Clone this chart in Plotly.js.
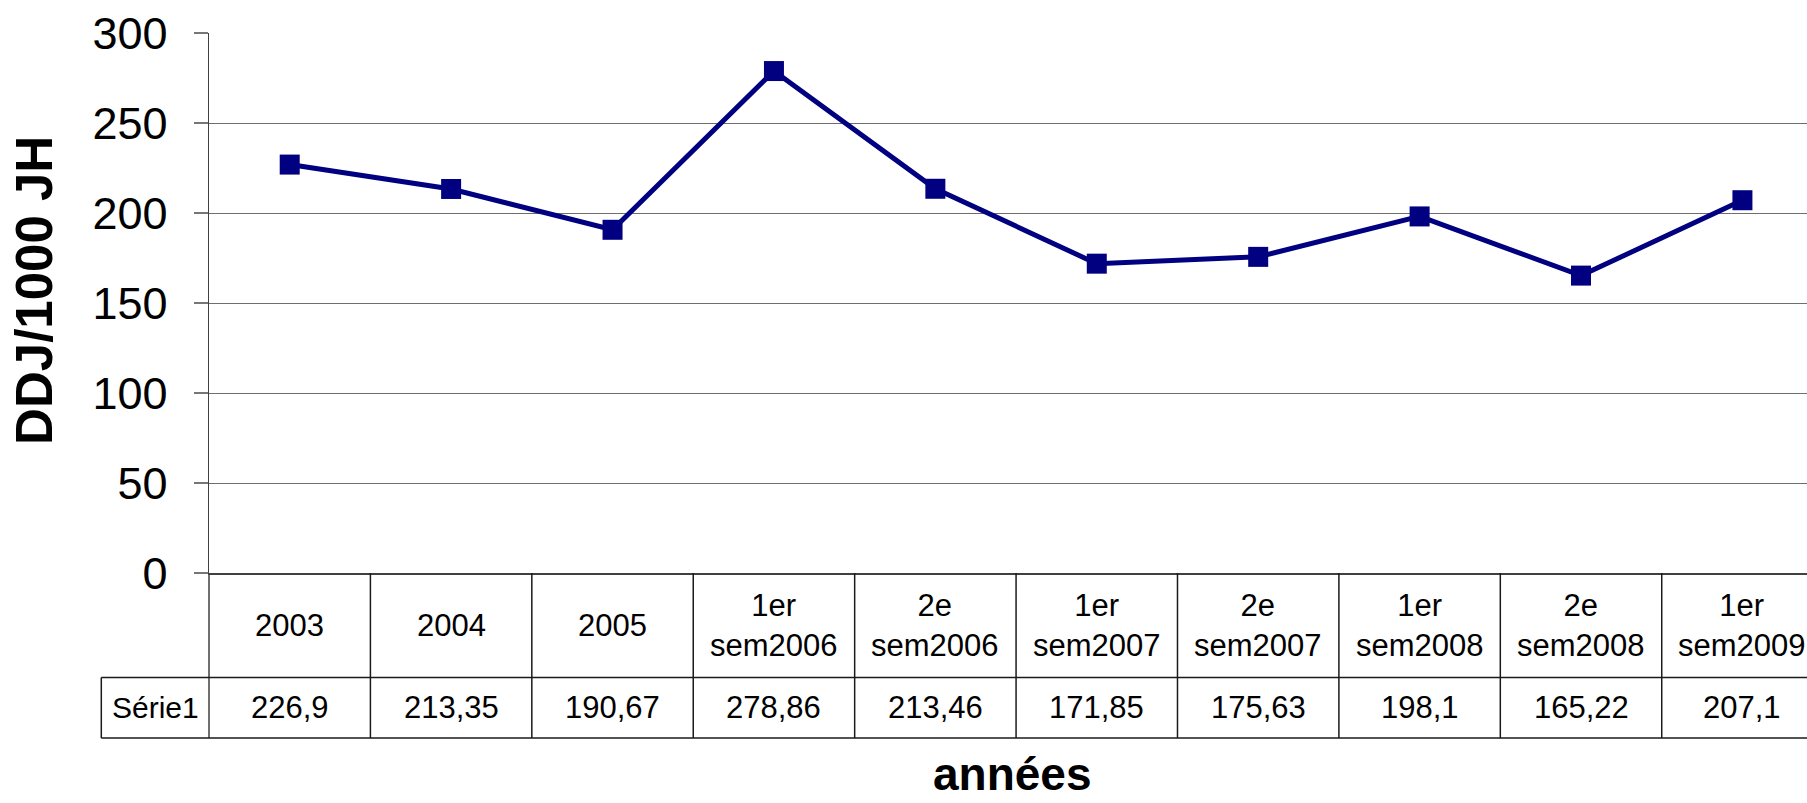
<!DOCTYPE html>
<html>
<head>
<meta charset="utf-8">
<script src="https://cdn.plot.ly/plotly-3.0.1.min.js"></script>
<style>
  html, body { margin: 0; padding: 0; background: #ffffff; overflow: hidden; }
  #chart { width: 1807px; height: 803px; }
</style>
</head>
<body>
<div id="chart"></div>
<script>
// ---- data ----
const categories = ["2003", "2004", "2005", "1er<br>sem2006", "2e<br>sem2006", "1er<br>sem2007", "2e<br>sem2007", "1er<br>sem2008", "2e<br>sem2008", "1er<br>sem2009"];
const seriesName = "Série1";
const values = [226.9, 213.35, 190.67, 278.86, 213.46, 171.85, 175.63, 198.1, 165.22, 207.1];
const yTickValues = [0, 50, 100, 150, 200, 250, 300];
const yTitle = "DDJ/1000 JH";
const xTitle = "années";

// ---- build ----
const FONT = "Liberation Sans, Arial, sans-serif";
const idx = categories.map((c, i) => i);
const fmt = v => String(v).replace('.', ',');

const trace = {
  x: idx,
  y: values,
  type: 'scatter',
  mode: 'lines+markers',
  name: seriesName,
  line: { color: '#000080', width: 5 },
  marker: { symbol: 'square', size: 20, color: '#000080', line: { width: 0 } },
  hoverinfo: 'skip',
  cliponaxis: false
};

const rowDivY = -0.1934;   // between category row and value row (paper)
const tableBottomY = -0.3057;
const labelCellLeft = -0.0674;
const tableLine = { color: '#1a1a1a', width: 1.5 };

const shapes = [];
// left border (continuation of the y axis)
shapes.push({ type: 'line', xref: 'paper', yref: 'paper', x0: 0, x1: 0, y0: 0, y1: tableBottomY, line: { color: '#404040', width: 1.5 } });
// column separators
for (let i = 1; i <= categories.length; i++) {
  shapes.push({ type: 'line', xref: 'x', yref: 'paper', x0: i - 0.5, x1: i - 0.5, y0: 0, y1: tableBottomY, line: tableLine });
}
// series label cell left border
shapes.push({ type: 'line', xref: 'paper', yref: 'paper', x0: labelCellLeft, x1: labelCellLeft, y0: rowDivY, y1: tableBottomY, line: tableLine });
// horizontal lines
shapes.push({ type: 'line', xref: 'paper', yref: 'paper', x0: labelCellLeft, x1: 1.02, y0: rowDivY, y1: rowDivY, line: tableLine });
shapes.push({ type: 'line', xref: 'paper', yref: 'paper', x0: labelCellLeft, x1: 1.02, y0: tableBottomY, y1: tableBottomY, line: tableLine });

const annotations = [];
categories.forEach((c, i) => {
  annotations.push({ xref: 'x', yref: 'paper', x: i, y: -0.097, text: c, showarrow: false,
    xanchor: 'center', yanchor: 'middle', align: 'center', font: { family: FONT, size: 31, color: '#000' } });
  annotations.push({ xref: 'x', yref: 'paper', x: i, y: -0.249, text: fmt(values[i]), showarrow: false,
    xanchor: 'center', yanchor: 'middle', font: { family: FONT, size: 31, color: '#000' } });
});
annotations.push({ xref: 'paper', yref: 'paper', x: -0.0336, y: -0.249, text: seriesName, showarrow: false,
  xanchor: 'center', yanchor: 'middle', font: { family: FONT, size: 30, color: '#000' } });
annotations.push({ xref: 'paper', yref: 'paper', x: -0.1096, y: 0.524, text: yTitle, textangle: -90, showarrow: false,
  xanchor: 'center', yanchor: 'middle', font: { family: FONT, size: 51, color: '#000', weight: 'bold' } });
annotations.push({ xref: 'paper', yref: 'paper', x: 0.503, y: -0.373, text: xTitle, showarrow: false,
  xanchor: 'center', yanchor: 'middle', font: { family: FONT, size: 46, color: '#000', weight: 'bold' } });

const layout = {
  width: 1807,
  height: 803,
  margin: { l: 209, r: 0, t: 33, b: 230, pad: 0 },
  paper_bgcolor: '#ffffff',
  plot_bgcolor: '#ffffff',
  showlegend: false,
  font: { family: FONT, color: '#000' },
  xaxis: {
    type: 'linear',
    range: [-0.5, 9.4],
    showgrid: false,
    zeroline: false,
    showticklabels: false,
    ticks: '',
    showline: true,
    linecolor: '#404040',
    linewidth: 2,
    side: 'bottom',
    fixedrange: true
  },
  yaxis: {
    range: [0, 300],
    tickvals: yTickValues,
    ticktext: yTickValues.map(String),
    showgrid: true,
    gridcolor: '#6e6e6e',
    gridwidth: 1,
    zeroline: false,
    showline: true,
    linecolor: '#404040',
    linewidth: 1.5,
    ticks: 'outside',
    ticklen: 14,
    tickwidth: 1.5,
    tickcolor: '#777777',
    ticklabelstandoff: 17,
    tickfont: { family: FONT, size: 45, color: '#000' },
    fixedrange: true
  },
  shapes: shapes,
  annotations: annotations
};

Plotly.newPlot('chart', [trace], layout, { displayModeBar: false, staticPlot: true });
</script>
</body>
</html>
